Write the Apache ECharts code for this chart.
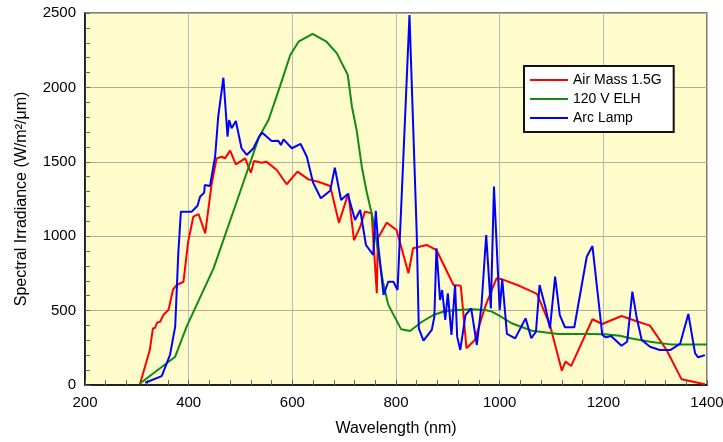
<!DOCTYPE html>
<html>
<head>
<meta charset="utf-8">
<script src="https://cdn.jsdelivr.net/npm/echarts@6/dist/echarts.min.js"></script>
<style>
  html, body { margin: 0; padding: 0; background: #fff; }
  #chart { width: 723px; height: 442px; }
</style>
</head>
<body>
<div id="chart"></div>
<script>
// wavelength (nm) / irradiance (W/m²/μm)
const airMassX = [306, 325, 331, 335, 339, 345, 351, 361, 370, 377, 390, 399, 409, 419, 432, 444, 454, 464, 470, 480, 491, 509, 520, 526, 541, 550, 570, 589, 610, 631, 650, 673, 690, 708, 719, 731, 740, 753, 763, 765, 782, 801, 824, 833, 859, 878, 911, 925, 936, 952, 972, 994, 1005, 1039, 1072, 1097, 1120, 1127, 1138, 1179, 1198, 1235, 1267, 1290, 1322, 1351, 1396];
const airMassY = [5, 235, 381, 383, 419, 425, 470, 504, 643, 672, 694, 963, 1131, 1149, 1019, 1344, 1523, 1534, 1523, 1575, 1483, 1523, 1427, 1505, 1494, 1501, 1445, 1349, 1434, 1382, 1366, 1337, 1091, 1288, 973, 1064, 1165, 1154, 616, 986, 1091, 1042, 751, 919, 941, 907, 672, 667, 247, 302, 526, 717, 710, 665, 612, 403, 96, 157, 128, 442, 410, 464, 425, 399, 235, 38, 5];

const elhX = [306, 374, 396, 448, 492, 536, 554, 576, 596, 612, 639, 666, 686, 707, 715, 724, 734, 744, 756, 766, 775, 785, 810, 827, 850, 872, 895, 920, 946, 972, 985, 1000, 1023, 1062, 1113, 1171, 1203, 1232, 1252, 1290, 1329, 1400];
const elhY = [10, 190, 392, 784, 1225, 1669, 1781, 2005, 2218, 2307, 2359, 2307, 2229, 2083, 1870, 1714, 1467, 1288, 1109, 885, 690, 540, 374, 363, 425, 470, 497, 504, 509, 504, 493, 464, 415, 365, 343, 343, 341, 331, 314, 291, 273, 273];

const arcX = [316, 348, 364, 374, 380, 385, 406, 417, 422, 430, 431, 441, 451, 457, 467, 475, 478, 483, 491, 502, 512, 525, 536, 542, 560, 573, 578, 583, 599, 616, 628, 640, 655, 673, 682, 694, 707, 721, 731, 742, 756, 761, 766, 776, 785, 795, 803, 814, 826, 840, 844, 853, 869, 874, 878, 885, 889, 895, 900, 907, 914, 918, 924, 934, 945, 956, 965, 974, 983, 989, 1000, 1005, 1014, 1030, 1050, 1061, 1070, 1077, 1088, 1097, 1107, 1116, 1126, 1144, 1168, 1179, 1198, 1205, 1215, 1235, 1246, 1256, 1264, 1274, 1290, 1309, 1329, 1348, 1364, 1377, 1383, 1396];
const arcY = [15, 60, 202, 392, 885, 1165, 1165, 1205, 1265, 1293, 1344, 1337, 1534, 1803, 2065, 1669, 1781, 1725, 1774, 1591, 1546, 1591, 1669, 1696, 1640, 1642, 1613, 1651, 1591, 1620, 1534, 1360, 1255, 1306, 1460, 1243, 1284, 1109, 1176, 941, 874, 1171, 930, 605, 694, 694, 638, 1512, 2487, 1019, 381, 298, 370, 459, 918, 571, 638, 437, 616, 336, 672, 325, 235, 470, 515, 269, 538, 1008, 515, 1333, 504, 710, 343, 314, 448, 314, 358, 672, 526, 381, 728, 470, 388, 388, 862, 934, 336, 320, 329, 264, 291, 627, 459, 302, 257, 235, 235, 276, 477, 213, 186, 201];

const seriesNames = ['Air Mass 1.5G', '120 V ELH', 'Arc Lamp'];
const seriesColors = ['#ff0000', '#138a13', '#0000ff'];

function pairs(xs, ys) {
    return xs.map(function (x, i) { return [x, ys[i]]; });
}

const chart = echarts.init(document.getElementById('chart'));

const labelFont = { color: '#000', fontSize: 15, fontFamily: 'Liberation Sans, Arial, sans-serif', formatter: function (v) { return String(v); } };

const option = {
    animation: false,
    grid: {
        left: 85, top: 13, right: 16, bottom: 57,
        outerBoundsMode: 'none',
        containLabel: false,
        show: true,
        backgroundColor: '#fffccc',
        borderColor: '#555',
        borderWidth: 1.5
    },
    legend: {
        orient: 'vertical',
        left: 524,
        top: 66,
        data: seriesNames,
        icon: 'rect',
        itemWidth: 38,
        itemHeight: 2,
        itemGap: 5,
        padding: [7, 12, 7, 6],
        backgroundColor: '#fff',
        borderColor: '#111',
        borderWidth: 2,
        textStyle: { color: '#000', fontSize: 14, fontFamily: 'Liberation Sans, Arial, sans-serif' }
    },
    xAxis: {
        type: 'value',
        min: 200,
        max: 1400,
        interval: 200,
        name: 'Wavelength (nm)',
        nameLocation: 'middle',
        nameGap: 36,
        nameTextStyle: { color: '#000', fontSize: 16, fontFamily: 'Liberation Sans, Arial, sans-serif' },
        axisLine: { show: true, lineStyle: { color: '#000', width: 1.5 } },
        axisTick: { show: true, inside: true, length: 5, lineStyle: { color: '#666' } },
        minorTick: { show: true, splitNumber: 5, length: 5, lineStyle: { color: '#666' } },
        axisLabel: Object.assign({ margin: 10 }, labelFont),
        splitLine: { show: true, lineStyle: { color: '#b9b9c9', width: 1 } }
    },
    yAxis: {
        type: 'value',
        min: 0,
        max: 2500,
        interval: 500,
        name: 'Spectral Irradiance (W/m²/μm)',
        nameLocation: 'middle',
        nameGap: 55,
        nameTextStyle: { color: '#000', fontSize: 16, fontFamily: 'Liberation Sans, Arial, sans-serif' },
        axisLine: { show: true, lineStyle: { color: '#000', width: 1.5 } },
        axisTick: { show: true, inside: true, length: 5, lineStyle: { color: '#666' } },
        minorTick: { show: true, splitNumber: 5, length: 5, lineStyle: { color: '#666' } },
        axisLabel: Object.assign({ margin: 9 }, labelFont),
        splitLine: { show: true, lineStyle: { color: '#b3af8e', width: 1 } }
    },
    series: [
        { name: seriesNames[0], data: pairs(airMassX, airMassY) },
        { name: seriesNames[1], data: pairs(elhX, elhY) },
        { name: seriesNames[2], data: pairs(arcX, arcY) }
    ].map(function (s, i) {
        return {
            name: s.name,
            type: 'line',
            data: s.data,
            showSymbol: false,
            color: seriesColors[i],
            lineStyle: { color: seriesColors[i], width: 2 }
        };
    })
};

chart.setOption(option);
</script>
</body>
</html>
